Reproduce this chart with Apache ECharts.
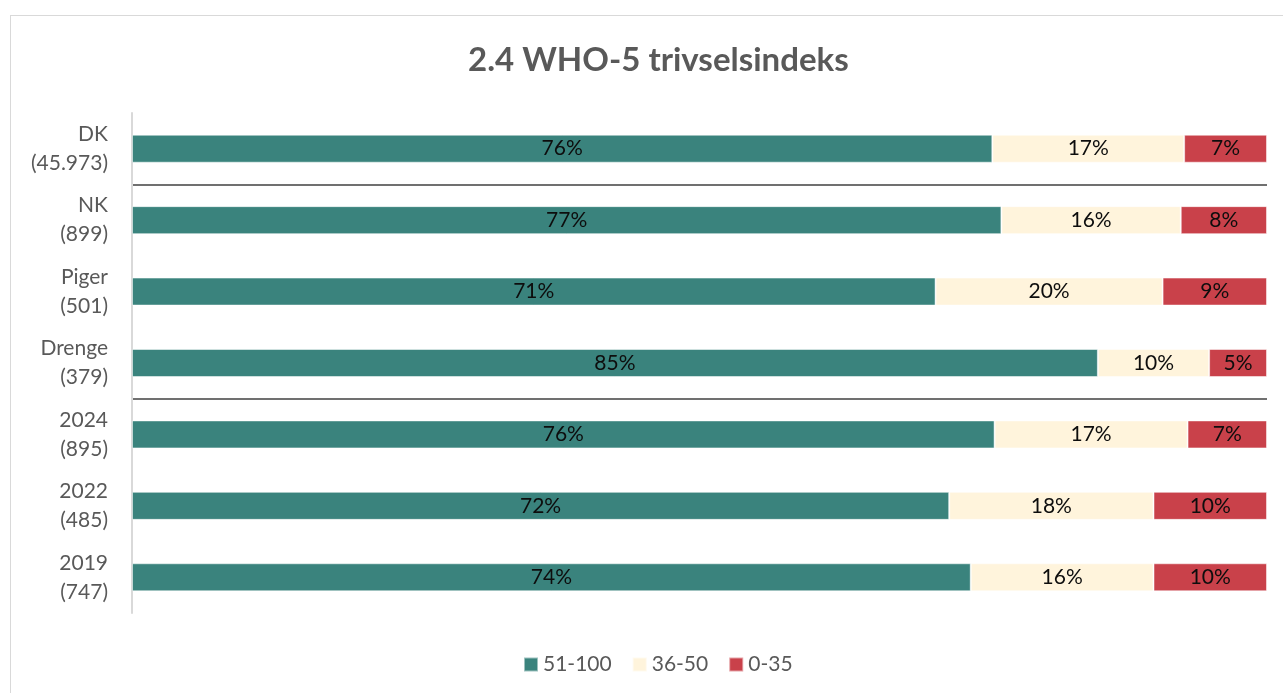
<!DOCTYPE html>
<html>
<head>
<meta charset="utf-8">
<script src="https://cdn.jsdelivr.net/npm/echarts@6/dist/echarts.min.js"></script>
<style>
html, body { margin: 0; padding: 0; background: #fff; overflow: hidden; }
#frame {
  position: absolute; left: 10px; top: 15px;
  width: 1300px; height: 700px;
  border: 1px solid #d9d9d9;
}
#main { position: absolute; left: 0; top: 0; width: 1283px; height: 693px; }
</style>
</head>
<body>
<div id="frame"></div>
<div id="main"></div>
<script>
// grupper, oppefra og ned
var categories = ["DK\n(45.973)", "NK\n(899)", "Piger\n(501)", "Drenge\n(379)", "2024\n(895)", "2022\n(485)", "2019\n(747)"];
var seriesNames = ["51-100", "36-50", "0-35"];
// andele i procent
var high = [75.8, 76.6, 70.8, 85.1, 76.0, 72.0, 73.9];
var mid = [16.9, 15.8, 20.0, 9.8, 17.0, 18.0, 16.1];
var low = [7.3, 7.6, 9.2, 5.1, 7.0, 10.0, 10.0];
var colors = ["#3a837d", "#fff4dc", "#c9414a"];

// skillelinjer efter DK og efter Drenge
var sepColors = ["transparent", "#404040", "transparent", "transparent", "#404040", "transparent", "transparent", "transparent"];

var myChart = echarts.init(document.getElementById("main"));

function bar(name, data, color) {
  return {
    name: name,
    type: "bar",
    stack: "total",
    barWidth: 28,
    data: data,
    itemStyle: { color: color, borderColor: "rgba(255,255,255,0.5)", borderWidth: 1 },
    label: {
      show: true,
      position: "inside",
      color: "#0d0d0d",
      fontFamily: "Lato",
      fontSize: 21,
      formatter: function (p) {
        return Math.round(p.value) + "%";
      }
    }
  };
}

var option = {
  animation: false,
  color: colors,
  title: {
    text: "2.4 WHO-5 trivselsindeks",
    left: 463,
    top: 39,
    textStyle: { color: "#595959", fontFamily: "Lato", fontWeight: "bold", fontSize: 33 }
  },
  legend: {
    bottom: 13,
    left: 518,
    itemWidth: 14,
    itemHeight: 14,
    itemGap: 20,
    icon: "rect",
    textStyle: { color: "#595959", fontFamily: "Lato", fontSize: 21 },
    data: seriesNames
  },
  grid: { left: 132, right: 16, top: 113, bottom: 80 },
  xAxis: {
    type: "value",
    min: 0,
    max: 100,
    show: false
  },
  yAxis: {
    type: "category",
    inverse: true,
    data: categories,
    axisLine: { show: true, lineStyle: { color: "#d9d9d9", width: 2 } },
    axisTick: { show: false },
    axisLabel: {
      color: "#595959",
      fontFamily: "Lato",
      fontSize: 21,
      lineHeight: 29,
      margin: 24,
      align: "right"
    },
    splitLine: {
      show: true,
      lineStyle: { color: sepColors, width: 1.5 }
    }
  },
  series: [
    bar(seriesNames[0], high, colors[0]),
    bar(seriesNames[1], mid, colors[1]),
    bar(seriesNames[2], low, colors[2])
  ]
};

myChart.setOption(option);
</script>
</body>
</html>
